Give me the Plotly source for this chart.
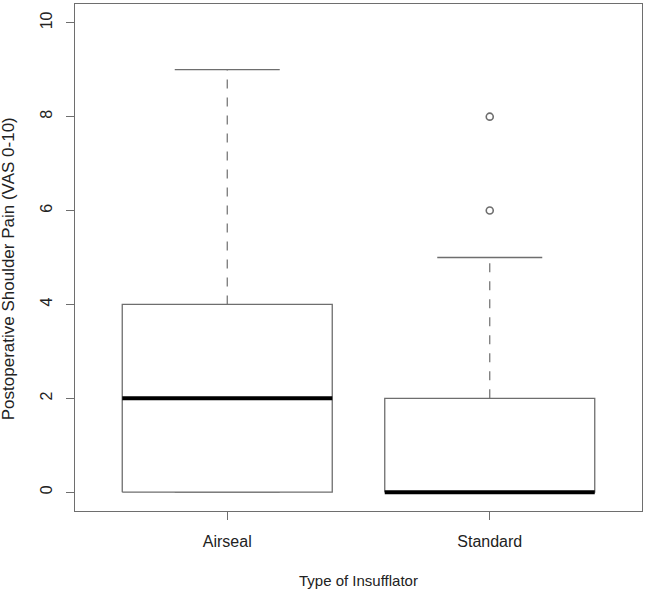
import plotly.graph_objects as go

# box plot summary
groups = ["Airseal", "Standard"]
lower_whisker = [0, 0]
q1 = [0, 0]
median = [2, 0]
q3 = [4, 2]
upper_whisker = [9, 5]
outliers = [[], [6, 8]]

GREY = "#6e6e6e"
half_box = 0.4
half_cap = 0.2

fig = go.Figure()

for i, name in enumerate(groups):
    c = i + 1
    # dashed whiskers
    fig.add_trace(go.Scatter(x=[c, c], y=[q3[i], upper_whisker[i]], mode="lines",
                             line=dict(color=GREY, width=1.2, dash="dash"), showlegend=False, hoverinfo="skip"))
    fig.add_trace(go.Scatter(x=[c, c], y=[lower_whisker[i], q1[i]], mode="lines",
                             line=dict(color=GREY, width=1.2, dash="dash"), showlegend=False, hoverinfo="skip"))
    # caps
    for w in (lower_whisker[i], upper_whisker[i]):
        fig.add_trace(go.Scatter(x=[c - half_cap, c + half_cap], y=[w, w], mode="lines",
                                 line=dict(color=GREY, width=1.3), showlegend=False, hoverinfo="skip"))
    # box
    fig.add_trace(go.Scatter(x=[c - half_box, c + half_box, c + half_box, c - half_box, c - half_box],
                             y=[q1[i], q1[i], q3[i], q3[i], q1[i]], mode="lines", fill="toself",
                             fillcolor="white", line=dict(color=GREY, width=1.3),
                             showlegend=False, hoverinfo="skip"))
    # median
    fig.add_trace(go.Scatter(x=[c - half_box, c + half_box], y=[median[i], median[i]], mode="lines",
                             line=dict(color="black", width=4), showlegend=False, hoverinfo="skip"))
    # outliers
    if outliers[i]:
        fig.add_trace(go.Scatter(x=[c] * len(outliers[i]), y=outliers[i], mode="markers",
                                 marker=dict(symbol="circle-open", size=7, color=GREY, line=dict(width=1.6)),
                                 showlegend=False, hoverinfo="skip"))

FAMILY = "Liberation Sans, Arial, sans-serif"
tick_font = dict(family=FAMILY, size=16, color="#222222")

fig.update_layout(
    width=645, height=591,
    margin=dict(l=75, r=3, t=4, b=80),
    paper_bgcolor="white", plot_bgcolor="white",
    font=tick_font,
    xaxis=dict(range=[0.42, 2.58], tickvals=[1, 2], ticktext=groups, automargin=False,
               showgrid=False, zeroline=False, showline=True, mirror=True,
               linecolor=GREY, linewidth=1.3, ticks="outside", ticklen=8,
               tickcolor=GREY, tickfont=tick_font, ticklabelstandoff=8),
    yaxis=dict(range=[-0.4, 10.4], tickvals=[0, 2, 4, 6, 8, 10], tickangle=-90, automargin=False,
               showgrid=False, zeroline=False, showline=True, mirror=True,
               linecolor=GREY, linewidth=1.3, ticks="outside", ticklen=8,
               tickcolor=GREY, tickfont=tick_font, ticklabelstandoff=7),
    annotations=[
        dict(text="Type of Insufflator", xref="paper", yref="paper", x=0.5, y=-0.138,
             xanchor="center", yanchor="middle", showarrow=False,
             font=dict(family=FAMILY, size=15, color="#222222")),
        dict(text="Postoperative Shoulder Pain (VAS 0-10)", xref="paper", yref="paper",
             x=-0.118, y=0.477, xanchor="center", yanchor="middle", textangle=-90, showarrow=False,
             font=dict(family=FAMILY, size=17, color="#222222")),
    ],
)

fig.write_html("out.html", config={"displayModeBar": False},
               post_script="document.body.style.margin='0';document.body.style.overflow='hidden';")
